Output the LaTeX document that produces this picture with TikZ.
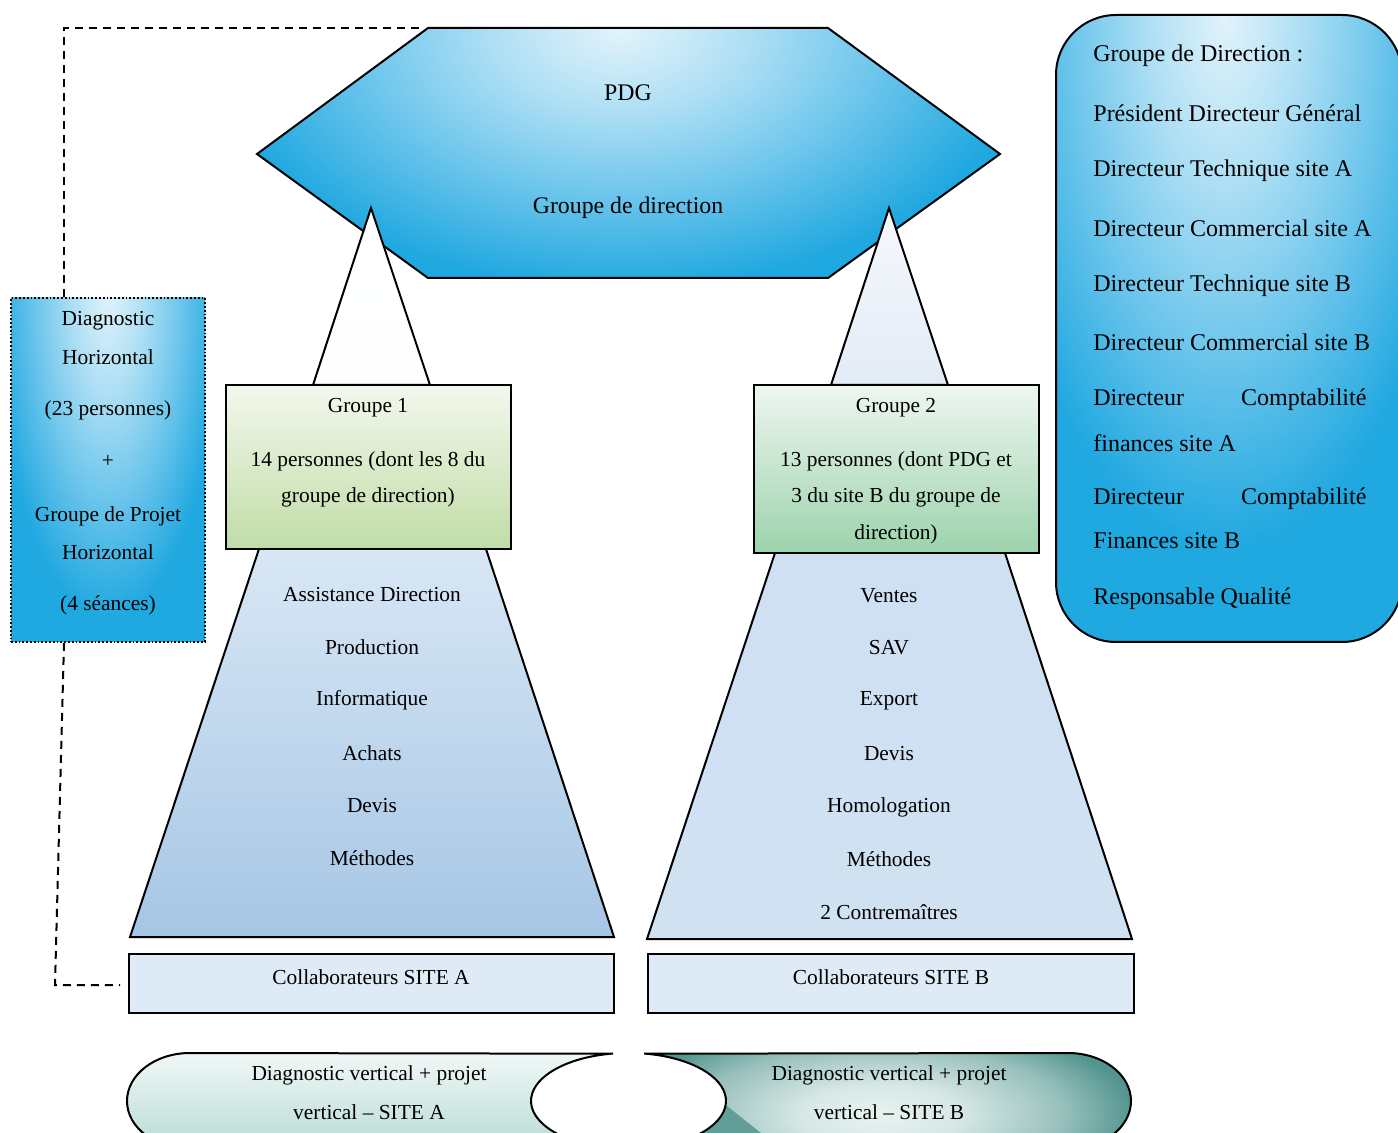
\documentclass[tikz,border=0pt]{standalone}
\usepackage{fontspec}
\setmainfont{Liberation Serif}
\definecolor{hexlight}{RGB}{226,243,251}
\definecolor{hexmid}{RGB}{110,198,236}
\definecolor{hexblue}{RGB}{32,168,224}
\definecolor{tealdark}{RGB}{82,148,142}
\definecolor{teallight}{RGB}{232,243,241}
\definecolor{greentopA}{RGB}{243,248,237}
\definecolor{greenbotA}{RGB}{192,220,166}
\definecolor{greentopB}{RGB}{238,246,240}
\definecolor{greenbotB}{RGB}{156,211,172}
\definecolor{trapAtop}{RGB}{216,231,245}
\definecolor{trapAbot}{RGB}{166,198,229}
\definecolor{trapBtop}{RGB}{206,224,242}
\definecolor{trapBmid}{RGB}{176,205,233}
\definecolor{trapBbot}{RGB}{208,225,242}
\definecolor{sitefill}{RGB}{222,234,245}
\definecolor{triB}{RGB}{226,235,246}
\definecolor{pilltop}{RGB}{240,248,247}
\definecolor{pillbot}{RGB}{186,219,213}
\pgfdeclareradialshading{blueglow}{\pgfpoint{0bp}{0bp}}{color(0bp)=(hexlight); color(6bp)=(hexlight!55!hexmid); color(12bp)=(hexmid); color(19bp)=(hexblue); color(25bp)=(hexblue); color(50bp)=(hexblue)}
\pgfdeclareradialshading{tealglow}{\pgfpoint{0bp}{0bp}}{color(0bp)=(teallight); color(7bp)=(teallight!88!tealdark); color(16bp)=(teallight!45!tealdark); color(22bp)=(tealdark); color(50bp)=(tealdark)}
\begin{document}
\begin{tikzpicture}[x=0.5pt,y=-0.5pt, line join=miter,
  txt/.style={font=\fontsize{10.7}{12}\selectfont, inner sep=0pt},
  hextxt/.style={font=\fontsize{11.9}{14}\selectfont, inner sep=0pt},
  dirtxt/.style={font=\fontsize{12}{14}\selectfont, inner sep=0pt, anchor=west},
  edge/.style={draw=black, line width=1pt},
  dashlink/.style={draw=black, line width=1pt, dash pattern=on 4pt off 3pt}]
\useasboundingbox (0,0) rectangle (1398,1133);
\clip (0,0) rectangle (1398,1133);

% ---------- hexagon ----------
\begin{scope}
  \clip (428,28) -- (828,28) -- (1000,154) -- (828,278) -- (428,278) -- (257,154) -- cycle;
  \fill[hexblue] (250,20) rectangle (1010,290);
  \shade[shading=blueglow] (620,30) ellipse [x radius=540, y radius=340];
\end{scope}
\draw[edge] (428,28) -- (828,28) -- (1000,154) -- (828,278) -- (428,278) -- (257,154) -- cycle;
\coordinate (hexTL) at (428,28);
\node[hextxt] (pdg) at (628,93) {PDG};
\node[hextxt] (gdir) at (628,208) {Groupe de direction};

% ---------- triangles ----------
\draw[edge, top color=white, bottom color=white!96!triB] (371,208) -- (430,385) -- (313,385) -- cycle;
\draw[edge, top color=white!70!triB, bottom color=triB] (889,208) -- (948,385) -- (831,385) -- cycle;

% ---------- trapezoids ----------
\draw[edge, top color=trapAtop, bottom color=trapAbot] (259,549) -- (486,549) -- (614,937) -- (130,937) -- cycle;
\draw[edge, top color=trapBtop, middle color=trapBmid, bottom color=trapBbot] (775,553) -- (1005,553) -- (1132,939) -- (647,939) -- cycle;

% ---------- group boxes ----------
\node[edge, top color=greentopA, bottom color=greenbotA, minimum width=142.5pt, minimum height=82pt, inner sep=0pt] (g1) at (368.5,467) {};
\node[edge, top color=greentopB, bottom color=greenbotB, minimum width=142.5pt, minimum height=84pt, inner sep=0pt] (g2) at (896.5,469) {};
\node[txt] (g1a) at (368,408) {Groupe 1};
\node[txt] (g1b) at (368,461) {14 personnes (dont les 8 du};
\node[txt] (g1c) at (368,497) {groupe de direction)};
\node[txt] (g2a) at (896,408) {Groupe 2};
\node[txt] (g2b) at (896,461) {13 personnes (dont PDG et};
\node[txt] (g2c) at (896,497) {3 du site B du groupe de};
\node[txt] (g2d) at (896,534) {direction)};

% ---------- lists ----------
\node[txt] (a1) at (372,595) {Assistance Direction};
\node[txt] (a2) at (372,647) {Production};
\node[txt] (a3) at (372,700) {Informatique};
\node[txt] (a4) at (372,753) {Achats};
\node[txt] (a5) at (372,806) {Devis};
\node[txt] (a6) at (372,858) {Méthodes};
\node[txt] (b1) at (889,596) {Ventes};
\node[txt] (b2) at (889,648) {SAV};
\node[txt] (b3) at (889,701) {Export};
\node[txt] (b4) at (889,754) {Devis};
\node[txt] (b5) at (889,807) {Homologation};
\node[txt] (b6) at (889,859) {Méthodes};
\node[txt] (b7) at (889,912) {2 Contremaîtres};

% ---------- site boxes ----------
\node[edge, fill=sitefill, minimum width=242.5pt, minimum height=29.5pt, inner sep=0pt] (siteA) at (371.5,983.5) {};
\node[edge, fill=sitefill, minimum width=243pt, minimum height=29.5pt, inner sep=0pt] (siteB) at (891,983.5) {};
\node[txt] (siteAt) at (371,977) {Collaborateurs SITE A};
\node[txt] (siteBt) at (891,977) {Collaborateurs SITE B};

% ---------- left diagnostic box ----------
\begin{scope}
  \clip (11,298) rectangle (205,642);
  \fill[hexblue] (0,290) rectangle (215,650);
  \shade[shading=blueglow] (108,290) ellipse [x radius=150, y radius=430];
\end{scope}
\node[draw=black, densely dotted, line width=0.9pt, minimum width=97pt, minimum height=172pt, inner sep=0pt] (diag) at (108,470) {};
\node[txt] (d1) at (108,321) {Diagnostic};
\node[txt] (d2) at (108,357) {Horizontal};
\node[txt] (d3) at (108,410) {(23 personnes)};
\node[txt] (d4) at (108,461) {+};
\node[txt] (d5) at (108,516) {Groupe de Projet};
\node[txt] (d6) at (108,552) {Horizontal};
\node[txt] (d7) at (108,605) {(4 séances)};

\coordinate (bend) at (55,985);
\draw[dashlink] ([xshift=-22pt]diag.north) |- ([xshift=-4pt]hexTL);
\draw[dashlink] ([xshift=-22pt]diag.south) -- (bend) -- ([xshift=-4pt]siteA.west |- bend);

% ---------- right direction box ----------
\begin{scope}
  \clip[rounded corners=30pt] (1056,15) rectangle (1402,642);
  \fill[hexblue] (1050,10) rectangle (1410,650);
  \shade[shading=blueglow] (1225,15) ellipse [x radius=320, y radius=700];
\end{scope}
\node[edge, rounded corners=30pt, minimum width=173pt, minimum height=313.5pt, inner sep=0pt] (dirbox) at (1229,328.5) {};
\node[dirtxt] (r1) at (1093,56) {Groupe de Direction :};
\node[dirtxt] (r2) at (1093,113) {Président Directeur Général};
\node[dirtxt] (r3) at (1093,171) {Directeur Technique site A};
\node[dirtxt] (r4) at (1093,228) {Directeur Commercial site A};
\node[dirtxt] (r5) at (1093,286) {Directeur Technique site B};
\node[dirtxt] (r6) at (1093,342) {Directeur Commercial site B};
\node[dirtxt] (r7) at (1093,400) {\makebox[136.5pt][s]{Directeur\hfill Comptabilité}};
\node[dirtxt] (r8) at (1093,443) {finances site A};
\node[dirtxt] (r9) at (1093,499) {\makebox[136.5pt][s]{Directeur\hfill Comptabilité}};
\node[dirtxt] (r10) at (1093,541) {Finances site B};
\node[dirtxt] (r11) at (1093,599) {Responsable Qualité};

% ---------- bottom pills ----------
\draw[edge, top color=pilltop, bottom color=pillbot]
  (612,1053.7) -- (190,1053) arc[start angle=270, end angle=90, x radius=63, y radius=48]
  -- (612,1148.3) arc[start angle=99.5, end angle=260.5, x radius=97, y radius=48] -- cycle;
\begin{scope}
  \clip (645,1053.7) -- (1068,1053) arc[start angle=270, end angle=450, x radius=63, y radius=48]
  -- (645,1148.3) arc[start angle=80.5, end angle=-80.5, x radius=97, y radius=48] -- cycle;
  \fill[tealdark] (640,1045) rectangle (1140,1160);
  \shade[shading=tealglow] (880,1115) ellipse [x radius=290, y radius=110];
  \fill[tealdark!90!teallight] (690,1098) -- (722,1102) -- (776,1145) -- (690,1145) -- cycle;
\end{scope}
\draw[edge]
  (645,1053.7) -- (1068,1053) arc[start angle=270, end angle=450, x radius=63, y radius=48]
  -- (645,1148.3) arc[start angle=80.5, end angle=-80.5, x radius=97, y radius=48] -- cycle;
\node[txt] (pA1) at (369,1075) {Diagnostic vertical + projet};
\node[txt] (pA2) at (369,1112) {vertical – SITE A};
\node[txt] (pB1) at (889,1075) {Diagnostic vertical + projet};
\node[txt] (pB2) at (889,1112) {vertical – SITE B};
\end{tikzpicture}
\end{document}
